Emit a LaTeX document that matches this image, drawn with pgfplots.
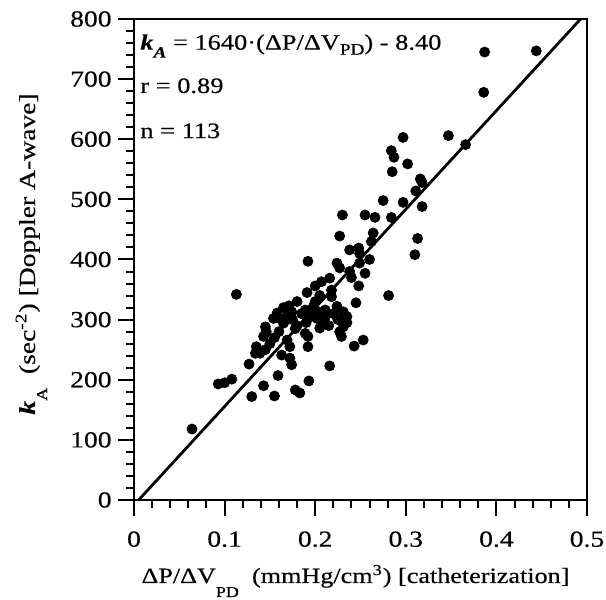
\documentclass[border=0pt]{standalone}
\usepackage{fontspec}
\setmainfont[FakeStretch=1.2, FakeBold=0.4]{Liberation Serif}
\usepackage{pgfplots}
\pgfplotsset{compat=1.18}
\newcommand{\lsub}[2]{\raisebox{-#1}{\fontsize{7.5}{9}\selectfont #2}}
\begin{document}
\begin{tikzpicture}
\begin{axis}[
  name=ax,
  scale only axis,
  width=226.5pt, height=240.5pt,
  xmin=0, xmax=0.5, ymin=0, ymax=800,
  xtick={0,0.1,0.2,0.3,0.4,0.5},
  ytick={0,100,...,800},
  minor x tick num=4,
  minor y tick num=4,
  xticklabels={0,0.1,0.2,0.3,0.4,0.5},
  tick align=outside,
  xtick pos=left, ytick pos=left,
  major tick length=8pt, minor tick length=4pt,
  every tick/.style={black, line width=1pt},
  axis line style={line width=1.4pt},
  /pgf/number format/assume math mode=true,
  tick label style={font=\fontsize{11.5}{13}\selectfont, inner sep=0pt},
  xticklabel style={anchor=north, yshift=-7.5pt},
  yticklabel style={anchor=east, xshift=-3pt},
  clip=false,
]
\addplot[only marks, mark=*, mark size=2.5pt, black] coordinates {
(0.387,745) (0.444,747) (0.386,678) (0.297,603) (0.347,606) (0.366,591)
(0.284,581) (0.287,570) (0.302,559) (0.285,546) (0.316,534) (0.318,528)
(0.311,514) (0.275,498) (0.297,495) (0.318,488)
(0.230,474) (0.255,474) (0.266,470) (0.284,470) (0.227,439) (0.264,444)
(0.262,430) (0.313,435) (0.310,408) (0.238,416) (0.248,419) (0.249,410)
(0.192,397) (0.224,394) (0.227,386) (0.238,380) (0.249,394) (0.255,377)
(0.216,369) (0.207,363) (0.200,356) (0.191,345) (0.248,356) (0.113,342)
(0.281,340) (0.218,349) (0.218,338) (0.245,328) (0.171,323) (0.169,316)
(0.174,313) (0.158,311) (0.161,302) (0.154,302) (0.189,316) (0.198,322)
(0.203,313) (0.211,316) (0.224,322) (0.231,313) (0.235,305) (0.165,294)
(0.169,300) (0.145,288) (0.146,280) (0.143,272) (0.209,294) (0.205,286)
(0.211,305) (0.202,302) (0.231,288) (0.227,280) (0.229,272) (0.189,277)
(0.192,272) (0.253,266) (0.243,256) (0.192,255) (0.169,266) (0.172,255)
(0.163,241) (0.172,236) (0.174,225) (0.135,255) (0.139,244) (0.134,244)
(0.127,226) (0.216,223) (0.159,207) (0.143,190) (0.193,198) (0.108,201)
(0.100,195) (0.093,193) (0.130,172) (0.155,173) (0.178,183) (0.183,178)
(0.064,118)
(0.175,300) (0.180,290) (0.185,310) (0.195,305) (0.200,330) (0.205,340)
(0.210,300) (0.220,310) (0.215,290) (0.160,280) (0.155,270) (0.150,260)
(0.165,320) (0.178,285) (0.190,295) (0.225,300) (0.235,295) (0.240,370)
(0.180,330) (0.170,305) (0.145,250) (0.260,400)
};
\addplot[black, line width=1.4pt, no marks] coordinates {(0.00512,0) (0.49293,800)};
\node[anchor=base west, inner sep=0pt, font=\fontsize{11}{13}\selectfont]
  at (axis cs:0.0066,749) {\textbf{\textit{k}}\raisebox{-4pt}{\fontsize{8}{9}\selectfont\textbf{\textit{A}}} = 1640·(ΔP/ΔV\raisebox{-2.5pt}{\fontsize{8}{9}\selectfont PD}) - 8.40};
\node[anchor=base west, inner sep=0pt, font=\fontsize{11}{13}\selectfont]
  at (axis cs:0.0066,677) {r = 0.89};
\node[anchor=base west, inner sep=0pt, font=\fontsize{11}{13}\selectfont]
  at (axis cs:0.0066,602) {n = 113};
\end{axis}
\node[anchor=base, inner sep=0pt, font=\fontsize{10.9}{12}\selectfont]
  at ([xshift=-2.5pt, yshift=-41.5pt]ax.south)
  {ΔP/ΔV\lsub{7pt}{PD}\ \ (mmHg/cm\textsuperscript{3}) [catheterization]};
\node[anchor=base, rotate=90, inner sep=0pt, font=\fontsize{11.5}{13}\selectfont]
  at ([xshift=-49.5pt, yshift=2.75pt]ax.west)
  {\textbf{\textit{k}}\lsub{6pt}{A}\ \ (sec\textsuperscript{-2}) [Doppler A-wave]};
\pgfresetboundingbox
\path[use as bounding box] ([shift={(-67pt,-50pt)}]ax.south west) rectangle ([shift={(9.5pt,9.5pt)}]ax.north east);
\end{tikzpicture}
\end{document}
